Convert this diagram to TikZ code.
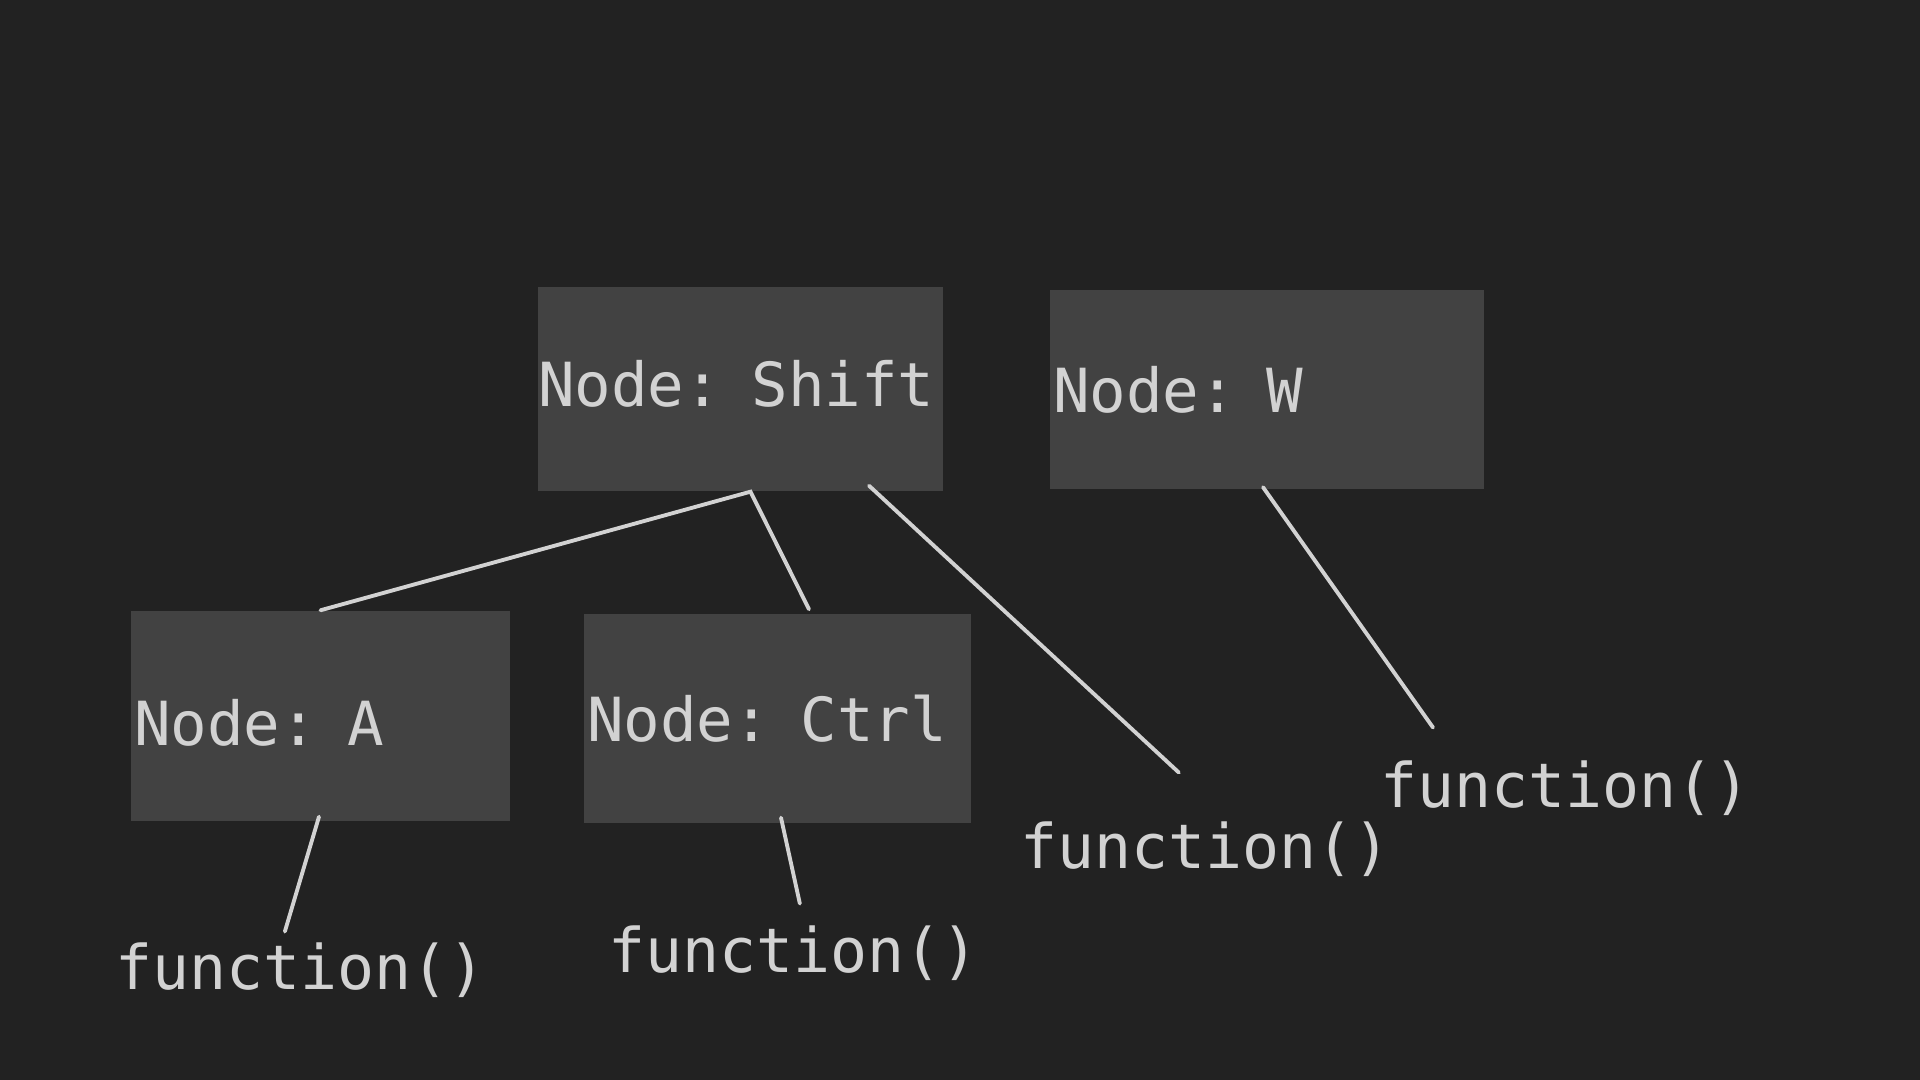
\documentclass[tikz,border=0pt]{standalone}
\usepackage{fontspec}
\setmonofont{DejaVu Sans Mono}
\usepackage{tikz}
\usetikzlibrary{positioning}
\definecolor{bg-dark}{HTML}{222222}
\definecolor{box-gray}{HTML}{424242}
\definecolor{light-text}{HTML}{D2D2D2}
\tikzset{
	keybox/.style={fill=box-gray, text=light-text, inner xsep=0.03cm, align=left, font=\ttfamily\fontsize{17.3pt}{21pt}\selectfont},
	fntext/.style={anchor=base west, inner sep=0.03cm, text=light-text, font=\ttfamily\fontsize{17.5pt}{21pt}\selectfont},
	wire/.style={draw=light-text, line width=1.1pt, line cap=round}
}

\begin{document}
\begin{tikzpicture}
	\fill[bg-dark] (0,0) rectangle (19.2,10.8);
	\useasboundingbox (0,0) rectangle (19.2,10.8);
	
	\node (Shift) at (7.405, 6.91) [keybox, inner xsep=0cm, text width=4.05cm, minimum height=2.04cm, text depth=0.12cm] {Node: Shift};
	\node (W) at (12.67, 6.905) [keybox, text width=4.28cm, minimum height=1.99cm] {Node: W};
	\node (A) at (3.205, 3.64) [keybox, text width=3.73cm, minimum height=2.10cm, text height=0.59cm] {Node: A};
	\node (Ctrl) at (7.775, 3.615) [keybox, text width=3.81cm, minimum height=2.09cm] {Node: Ctrl};
	
	\node (fA) at (1.12, 0.90) [fntext] {function()};
	\node (fCtrl) at (6.05, 1.07) [fntext] {function()};
	\node (fShift) at (10.17, 2.11) [fntext] {function()};
	\node (fW) at (13.77, 2.72) [fntext] {function()};
	
	\draw[wire] (A.north) -- ([xshift=0.1cm]Shift.south) -- ([xshift=0.315cm, yshift=0.04cm]Ctrl.north);
	\draw[wire] ([xshift=1.285cm, yshift=0.06cm]Shift.south) -- ([xshift=-0.27cm, yshift=0.46cm]fShift.north);
	\draw[wire] ([xshift=-0.04cm, yshift=0.025cm]W.south) -- ([xshift=0.56cm, yshift=0.3cm]fW.north west);
	\draw[wire] ([xshift=-0.015cm, yshift=0.05cm]A.south) -- ([xshift=-0.16cm, yshift=0.08cm]fA.north);
	\draw[wire] ([xshift=0.035cm, yshift=0.06cm]Ctrl.south) -- ([xshift=0.06cm, yshift=0.19cm]fCtrl.north);
	
\end{tikzpicture}
\end{document}
